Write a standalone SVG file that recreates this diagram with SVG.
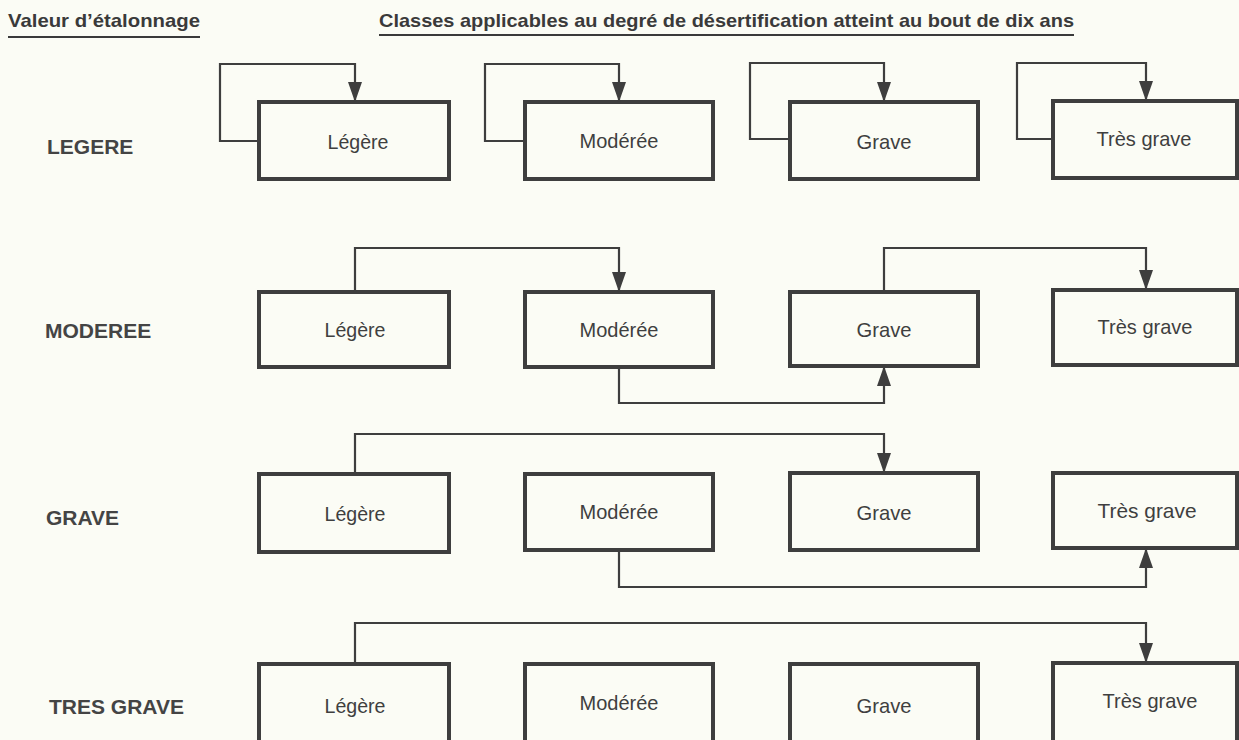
<svg xmlns="http://www.w3.org/2000/svg" width="1239" height="740" viewBox="0 0 1239 740">
  <style>
    .bg { fill: #fbfcf5; }
    .box { fill: none; stroke: #3e3e3e; stroke-width: 4; }
    .lbl { font-family: "Liberation Sans", Arial, sans-serif; font-size: 21px; fill: #3f3f3f; text-anchor: middle; }
    .row { font-family: "Liberation Sans", Arial, sans-serif; font-size: 21px; font-weight: bold; fill: #444; }
    .hdr { font-family: "Liberation Sans", Arial, sans-serif; font-size: 19px; font-weight: bold; fill: #3a3a3a; }
    .ul { stroke: #3a3a3a; stroke-width: 2; fill: none; }
    .con { fill: none; stroke: #3e3e3e; stroke-width: 2.2; marker-end: url(#arr); }
  </style>
  <defs>
    <marker id="arr" markerUnits="userSpaceOnUse" markerWidth="20" markerHeight="14" refX="20" refY="7" orient="auto">
      <path d="M0,0 L20,7 L0,14 Z" fill="#3e3e3e"/>
    </marker>
  </defs>
  <rect class="bg" x="0" y="0" width="1239" height="740"/>

  <g id="headers">
    <text class="hdr" x="8" y="27" textLength="192" lengthAdjust="spacingAndGlyphs">Valeur d’étalonnage</text>
    <line class="ul" x1="8" y1="37" x2="200" y2="37"/>
    <text class="hdr" x="379" y="27" textLength="695" lengthAdjust="spacingAndGlyphs">Classes applicables au degré de désertification atteint au bout de dix ans</text>
    <line class="ul" x1="379" y1="35" x2="1074" y2="35"/>
  </g>

  <g id="row-labels">
    <text id="lbl-legere" class="row" x="47" y="154">LEGERE</text>
    <text id="lbl-moderee" class="row" x="45" y="338">MODEREE</text>
    <text id="lbl-grave" class="row" x="46" y="525">GRAVE</text>
    <text id="lbl-tresgrave" class="row" x="49" y="714">TRES GRAVE</text>
  </g>

  <!-- Row 1: LEGERE -->
  <g id="r1-legere"><rect class="box" x="259" y="102" width="190" height="77"/><text class="lbl" x="358" y="149" textLength="61" lengthAdjust="spacingAndGlyphs">Légère</text></g>
  <g id="r1-moderee"><rect class="box" x="525" y="102" width="188" height="77"/><text class="lbl" x="619" y="148" textLength="79" lengthAdjust="spacingAndGlyphs">Modérée</text></g>
  <g id="r1-grave"><rect class="box" x="790" y="102" width="188" height="77"/><text class="lbl" x="884" y="149" textLength="55" lengthAdjust="spacingAndGlyphs">Grave</text></g>
  <g id="r1-tresgrave"><rect class="box" x="1053" y="101" width="184" height="77"/><text class="lbl" x="1144" y="146" textLength="95" lengthAdjust="spacingAndGlyphs">Très grave</text></g>

  <!-- Row 2: MODEREE -->
  <g id="r2-legere"><rect class="box" x="259" y="292" width="190" height="75"/><text class="lbl" x="355" y="337" textLength="61" lengthAdjust="spacingAndGlyphs">Légère</text></g>
  <g id="r2-moderee"><rect class="box" x="525" y="292" width="188" height="75"/><text class="lbl" x="619" y="337" textLength="79" lengthAdjust="spacingAndGlyphs">Modérée</text></g>
  <g id="r2-grave"><rect class="box" x="790" y="292" width="188" height="74"/><text class="lbl" x="884" y="337" textLength="55" lengthAdjust="spacingAndGlyphs">Grave</text></g>
  <g id="r2-tresgrave"><rect class="box" x="1053" y="290" width="184" height="75"/><text class="lbl" x="1145" y="334" textLength="95" lengthAdjust="spacingAndGlyphs">Très grave</text></g>

  <!-- Row 3: GRAVE -->
  <g id="r3-legere"><rect class="box" x="259" y="474" width="190" height="78"/><text class="lbl" x="355" y="521" textLength="61" lengthAdjust="spacingAndGlyphs">Légère</text></g>
  <g id="r3-moderee"><rect class="box" x="525" y="474" width="188" height="76"/><text class="lbl" x="619" y="519" textLength="79" lengthAdjust="spacingAndGlyphs">Modérée</text></g>
  <g id="r3-grave"><rect class="box" x="790" y="473" width="188" height="77"/><text class="lbl" x="884" y="520" textLength="55" lengthAdjust="spacingAndGlyphs">Grave</text></g>
  <g id="r3-tresgrave"><rect class="box" x="1053" y="473" width="184" height="75"/><text class="lbl" x="1147" y="518" textLength="99" lengthAdjust="spacingAndGlyphs">Très grave</text></g>

  <!-- Row 4: TRES GRAVE -->
  <g id="r4-legere"><rect class="box" x="259" y="664" width="190" height="79"/><text class="lbl" x="355" y="713" textLength="61" lengthAdjust="spacingAndGlyphs">Légère</text></g>
  <g id="r4-moderee"><rect class="box" x="525" y="664" width="188" height="79"/><text class="lbl" x="619" y="710" textLength="79" lengthAdjust="spacingAndGlyphs">Modérée</text></g>
  <g id="r4-grave"><rect class="box" x="790" y="664" width="188" height="79"/><text class="lbl" x="884" y="713" textLength="55" lengthAdjust="spacingAndGlyphs">Grave</text></g>
  <g id="r4-tresgrave"><rect class="box" x="1053" y="663" width="184" height="79"/><text class="lbl" x="1150" y="708" textLength="95" lengthAdjust="spacingAndGlyphs">Très grave</text></g>

  <g id="connectors">
    <!-- Row 1 self loops -->
    <path class="con" d="M259,141 H220 V64 H355 V102"/>
    <path class="con" d="M525,141 H485 V64 H619 V102"/>
    <path class="con" d="M790,139 H750 V63 H884 V102"/>
    <path class="con" d="M1053,139 H1017 V63 H1146 V101"/>
    <!-- Row 2 -->
    <path class="con" d="M355,292 V248 H619 V292"/>
    <path class="con" d="M884,292 V248 H1146 V290"/>
    <path class="con" d="M619,367 V403 H884 V366"/>
    <!-- Row 3 -->
    <path class="con" d="M355,474 V434 H884 V473"/>
    <path class="con" d="M619,550 V587 H1146 V548"/>
    <!-- Row 4 -->
    <path class="con" d="M355,664 V623 H1146 V663"/>
  </g>
</svg>
